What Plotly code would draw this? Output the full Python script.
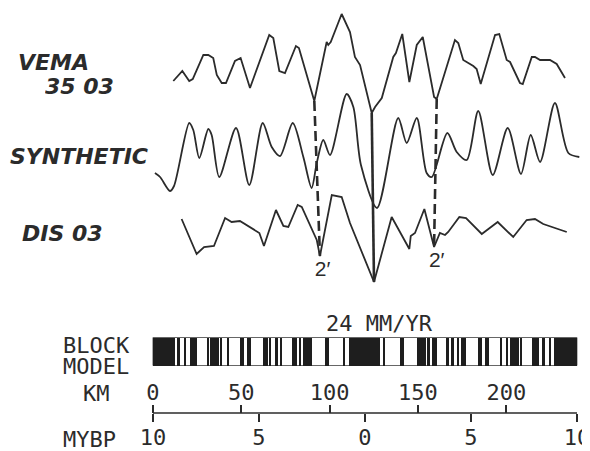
import numpy as np
import plotly.graph_objects as go

# ---------------- data ----------------
# Magnetic anomaly profiles: distance along track (km) and anomaly (relative units, + up)
vema_km = [11.5, 16.6, 20.5, 22.5, 28.5, 31.3, 34.1, 36.1, 38.9, 41.3, 46.4, 49.6, 54.9, 65.8,
           68.1, 71.5, 74.7, 80.9, 82.6, 91.3, 98.3, 99.2, 100.6, 106.8, 111.5, 114.3, 117.2,
           123.8, 125.7, 129.5, 136.0, 137.5, 141.1, 145.1, 149.3, 152.7, 159.1, 160.6, 170.9,
           172.8, 175.6, 181.3, 183.2, 185.5, 193.6, 196.0, 200.2, 202.1, 207.7, 209.3, 214.4,
           216.2, 219.1, 224.7, 228.5, 233.2]
vema_amp = [-11, -1, -11, -9, 15, 15, 12, -5, -13, -13, 9, 12, -18, 35, 32, -1, -3, 24, 22, -31,
            28, 25, 28, 56, 38, 13, 5, -43, -37, -28, 13, 17, 36, -12, 25, 33, -27, -29, 30, 27,
            10, 4, 1, -14, 35, 36, 10, 8, -13, -14, 13, 13, 10, 10, 6, -8]

syn_km = [1.1, 4.0, 9.6, 11.9, 20.5, 22.8, 26.2, 31.3, 33.2, 37.5, 47.0, 54.5, 62.1, 67.2, 71.9,
          79.1, 85.1, 89.8, 92.7, 96.4, 100.2, 109.6, 113.4, 117.7, 126.8, 138.8, 143.6, 149.3,
          154.9, 157.8, 166.6, 171.9, 177.6, 184.1, 192.3, 200.8, 208.3, 213.8, 219.1, 227.5,
          235.1, 241.3]
syn_amp = [-23, -27, -41, -36, 27, 20, -8, 21, 15, -27, 22, -35, 27, 3, -6, 27, -7, -38, -13, 10,
           -5, 56, 43, -15, -58, 32, 7, 32, -23, -27, 17, -2, -10, 39, -25, 22, -24, 15, -12, 47,
           -3, -7]

dis_km = [16.2, 24.7, 28.9, 34.5, 40.8, 44.5, 49.2, 54.9, 60.2, 62.8, 69.6, 73.8, 76.6, 81.9,
          84.2, 92.7, 94.5, 101.2, 106.8, 111.5, 119.0, 125.1, 135.1, 145.1, 145.9, 148.3, 153.6,
          159.1, 162.4, 165.3, 167.1, 173.4, 177.2, 186.1, 195.1, 203.9, 211.5, 216.2, 220.9, 234.2]
dis_amp = [16, -19, -12, -11, 17, 13, 14, 8, 2, -11, 25, 9, 8, 30, 28, -5, -21, 40, 38, 12, -21,
           -47, 18, -14, -1, 2, 26, -12, 2, 0, 3, 18, 17, 1, 13, -2, 15, 16, 11, 3]

# Correlation ties (km on upper VEMA profile -> km on lower DIS profile)
tie_top_km = [91.3, 123.8, 160.6]
tie_bottom_km = [94.5, 125.1, 159.1]
tie_styles = ["10px,5px", "solid", "10px,5px"]
tie_labels = ["2\u2032", "", "2\u2032"]

# Block model: normal polarity intervals (Ma)
normal_start_ma = [0.00, 0.91, 1.66, 2.47, 2.99, 3.18, 3.88, 4.10, 4.40, 4.57, 5.35, 5.68, 6.37,
                   6.70, 6.85, 7.35, 7.90, 8.41, 8.71, 8.92]
normal_end_ma = [0.73, 0.98, 1.88, 2.92, 3.08, 3.40, 3.97, 4.24, 4.47, 4.77, 5.53, 5.89, 6.50,
                 6.78, 7.28, 7.41, 8.21, 8.50, 8.80, 10.00]
half_rate_km_per_ma = 12.0   # 24 mm/yr full rate
ridge_km = 120.0
model_extent_km = [0, 240]

# Axes
km_ticks = [0, 50, 100, 150, 200]
km_labels = ["0", "50", "100", "150", "200"]
mybp_ticks_km = [0, 60, 120, 180, 240]
mybp_labels = ["10", "5", "0", "5", "10"]

# ---------------- layout constants ----------------
# the page body has an 8px margin, so the figure is drawn offset by (8, 8)
OFF = 8
W, H = 590 - OFF, 451 - OFF
INK = "#2b2b2b"
base_vema, base_syn, base_dis = -(70 - OFF), -(150 - OFF), -(235 - OFF)
bar_y, bar_h = -(352 - OFF), 28
axis_y = -(413 - OFF)
x_lo, x_hi = -2, 244
px0, px_per_km = 153.0 - OFF, 424.0 / 240.0
dom = [(px0 + x_lo * px_per_km) / W, (px0 + x_hi * px_per_km) / W]

fig = go.Figure()

# profiles
fig.add_trace(go.Scatter(x=vema_km, y=[base_vema + a for a in vema_amp], mode="lines",
                         line=dict(color=INK, width=1.8)))
fig.add_trace(go.Scatter(x=syn_km, y=[base_syn + a for a in syn_amp], mode="lines",
                         line=dict(color=INK, width=1.8, shape="spline", smoothing=0.8)))
fig.add_trace(go.Scatter(x=dis_km, y=[base_dis + a for a in dis_amp], mode="lines",
                         line=dict(color=INK, width=1.8)))

# tie lines
for kt, kb, st, lab in zip(tie_top_km, tie_bottom_km, tie_styles, tie_labels):
    yt = base_vema + np.interp(kt, vema_km, vema_amp)
    yb = base_dis + np.interp(kb, dis_km, dis_amp)
    fig.add_trace(go.Scatter(x=[kt, kb], y=[yt, yb], mode="lines",
                             line=dict(color=INK, width=2.6, dash=st)))
    if lab:
        fig.add_trace(go.Scatter(x=[kb + 1.5], y=[yb - 15], mode="text", text=[lab],
                                 textposition="middle center", cliponaxis=False,
                                 textfont=dict(family="Liberation Sans", size=21, color=INK)))

# block model background
fig.add_trace(go.Bar(orientation="h", y=[bar_y], x=[model_extent_km[1] - model_extent_km[0]],
                     base=[model_extent_km[0]], width=bar_h,
                     marker=dict(color="white", line=dict(color="#666", width=1))))
# normal-polarity blocks on both flanks
bases, lengths = [], []
for s, e in zip(normal_start_ma, normal_end_ma):
    bases.append(ridge_km - e * half_rate_km_per_ma)
    lengths.append((e - s) * half_rate_km_per_ma)
    bases.append(ridge_km + s * half_rate_km_per_ma)
    lengths.append((e - s) * half_rate_km_per_ma)
fig.add_trace(go.Bar(orientation="h", y=[bar_y] * len(bases), x=lengths, base=bases,
                     width=bar_h, marker=dict(color="#1e1e1e", line=dict(width=0))))

# scale bar line
fig.add_trace(go.Scatter(x=model_extent_km, y=[axis_y, axis_y], mode="lines", xaxis="x2",
                         line=dict(color=INK, width=1.6)))

mono = dict(family="DejaVu Sans Mono", size=22, color=INK)
fig.update_layout(
    width=W, height=H, margin=dict(l=0, r=0, t=0, b=0, pad=0), autosize=False,
    template="none", showlegend=False, barmode="overlay", bargap=0,
    paper_bgcolor="white", plot_bgcolor="white",
    xaxis=dict(domain=dom, range=[x_lo, x_hi], anchor="free", position=(H + axis_y) / H,
               side="top", tickmode="array", tickvals=km_ticks, ticktext=km_labels,
               ticks="outside", ticklen=8, tickwidth=1.6, tickcolor=INK, tickfont=mono,
               showline=False, showgrid=False, zeroline=False, automargin=False,
               ticklabelstandoff=-4, ticklabeloverflow="allow"),
    xaxis2=dict(domain=dom, range=[x_lo, x_hi], anchor="free", position=(H + axis_y) / H,
                overlaying="x", side="bottom", tickmode="array", tickvals=mybp_ticks_km,
                ticktext=mybp_labels, ticks="outside", ticklen=8, tickwidth=1.6,
                tickcolor=INK, tickfont=mono, showline=False, showgrid=False,
                zeroline=False, automargin=False, ticklabelstandoff=-3,
                ticklabeloverflow="allow"),
    yaxis=dict(domain=[0, 1], range=[-H, 0], visible=False, fixedrange=True),
)

def ann(text, sx, sy, font, xanchor="left", height=None):
    # sx, sy are screen positions; convert to figure paper fractions
    kw = dict(height=height) if height else {}
    fig.add_annotation(text=text, x=(sx - OFF) / W, y=1 - (sy - OFF) / H, xref="paper",
                       yref="paper", xanchor=xanchor, yanchor="middle", showarrow=False,
                       font=font, **kw)

bi = dict(family="DejaVu Sans", size=22, color=INK, weight="bold", style="italic")
ann("VEMA", 16, 62, bi, height=20)
ann("35 03", 43, 86, bi, height=20)
ann("SYNTHETIC", 8, 156, bi)
ann("DIS 03", 20, 233, bi)

ann("24 MM/YR", 380, 323, mono, xanchor="center")
ann("BLOCK", 61, 345, mono, height=20)
ann("MODEL", 61, 366, mono, height=20)
ann("KM", 81, 393, mono)
ann("MYBP", 61, 439, mono)

fig.write_html("out.html")
